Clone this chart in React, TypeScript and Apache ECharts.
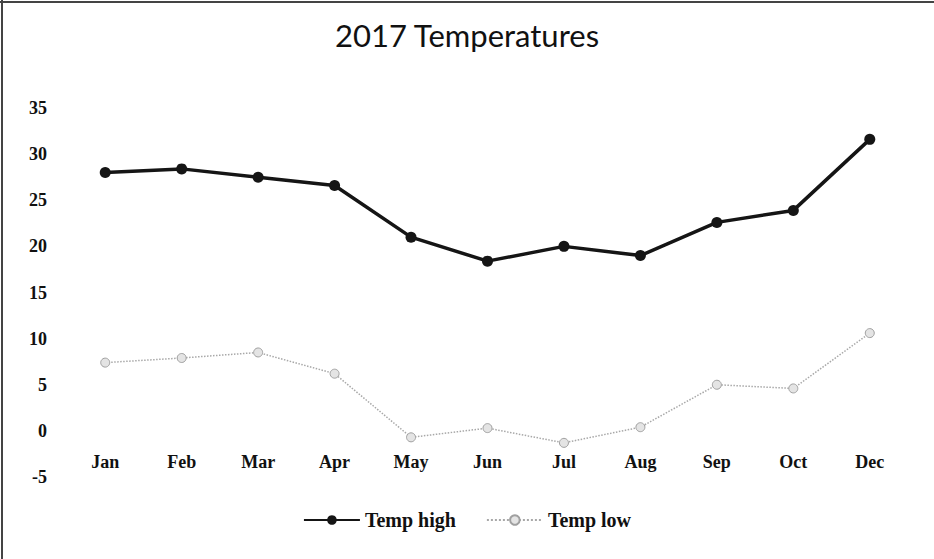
import React, { useEffect, useRef } from "react";
import * as echarts from "echarts";

const months = ["Jan", "Feb", "Mar", "Apr", "May", "Jun", "Jul", "Aug", "Sep", "Oct", "Dec"];
const tempHigh = [28.0, 28.4, 27.5, 26.6, 21.0, 18.4, 20.0, 19.0, 22.6, 23.9, 31.6];
const tempLow = [7.4, 7.9, 8.5, 6.2, -0.7, 0.3, -1.3, 0.4, 5.0, 4.6, 10.6];

const labelFont = "'Liberation Serif', 'DejaVu Serif', serif";

export default function App() {
  const ref = useRef<HTMLDivElement>(null);
  useEffect(() => {
    if (!ref.current) return;
    const chart = echarts.init(ref.current, undefined, { renderer: "svg" });
    chart.setOption({
      animation: false,
      backgroundColor: "#ffffff",
      title: {
        text: "2017 Temperatures",
        left: "center",
        top: 14,
        textStyle: { fontFamily: "Lato, 'Open Sans', sans-serif", fontSize: 31, fontWeight: "normal", color: "#111" },
      },
      grid: { left: 67, right: 26, top: 108, bottom: 82 },
      legend: {
        bottom: 24,
        left: "center",
        itemWidth: 56,
        itemHeight: 12,
        itemGap: 30,
        textStyle: { fontFamily: labelFont, fontSize: 20, fontWeight: "bold", color: "#111" },
        data: ["Temp high", "Temp low"],
      },
      xAxis: {
        type: "category",
        data: months,
        boundaryGap: true,
        offset: -46,
        axisLine: { show: false, onZero: false },
        axisTick: { show: false },
        axisLabel: { margin: 22, fontFamily: labelFont, fontSize: 18, fontWeight: "bold", color: "#111" },
        splitLine: { show: false },
      },
      yAxis: {
        type: "value",
        min: -5,
        max: 35,
        interval: 5,
        axisLine: { show: false },
        axisTick: { show: false },
        splitLine: { show: false },
        axisLabel: { margin: 20, fontFamily: labelFont, fontSize: 18, fontWeight: "bold", color: "#111" },
      },
      series: [
        {
          name: "Temp high",
          type: "line",
          data: tempHigh,
          symbol: "circle",
          symbolSize: 11,
          itemStyle: { color: "#151515" },
          lineStyle: { color: "#151515", width: 3.5 },
        },
        {
          name: "Temp low",
          type: "line",
          data: tempLow,
          symbol: "circle",
          symbolSize: 9,
          itemStyle: { color: "#e4e4e4", borderColor: "#a0a0a0", borderWidth: 1 },
          lineStyle: { color: "#a8a8a8", width: 1.5, type: "dotted" },
        },
      ],
      graphic: [
        { type: "line", shape: { x1: 0, y1: 2, x2: 934, y2: 2 }, style: { stroke: "#444", lineWidth: 2 } },
        { type: "line", shape: { x1: 2, y1: 0, x2: 2, y2: 559 }, style: { stroke: "#444", lineWidth: 2 } },
      ],
    });
    return () => chart.dispose();
  }, []);
  return <div ref={ref} style={{ position: "fixed", left: 0, top: 0, width: 934, height: 559 }} />;
}
